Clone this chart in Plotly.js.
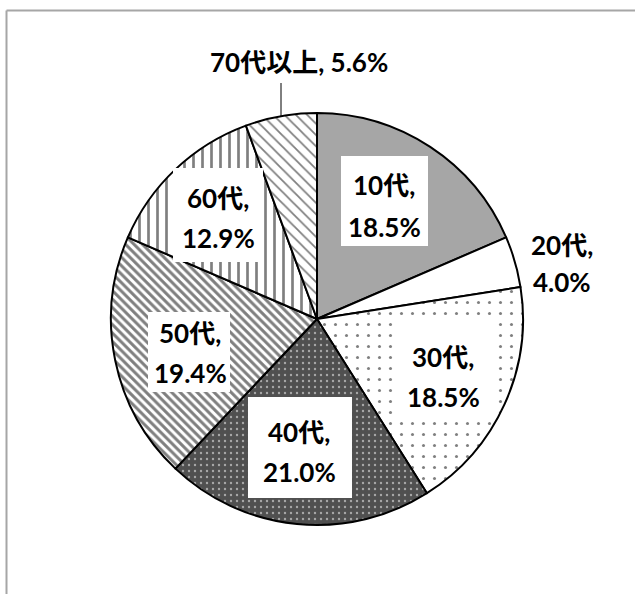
<!DOCTYPE html>
<html>
<head>
<meta charset="utf-8">
<script src="https://cdn.plot.ly/plotly-3.0.1.min.js"></script>
<style>
  html, body { margin: 0; padding: 0; background: #fff; }
  #chart { width: 635px; height: 594px; }
</style>
</head>
<body>
<div id="chart"></div>
<script>
// ---- data ----
const categories = ["10代", "20代", "30代", "40代", "50代", "60代", "70代以上"];
const shares = [18.5, 4.0, 18.5, 21.0, 19.4, 12.9, 5.6];

// ---- styles ----
const fillColors = ["#a6a6a6", "#ffffff", "#ffffff", "#505050", "#ffffff", "#ffffff", "#ffffff"];
const patternShapes = ["", "", ".", ".", "\\", "|", "\\"];
const patternFg = ["#000", "#000", "#000", "#ffffff", "#000", "#000", "#000"];
const patternSizes = [8, 8, 11, 6, 6, 9, 8];
const patternSolidity = [0.3, 0.3, 0.06, 0.12, 0.5, 0.3, 0.22];

// ---- label layout (pixel positions of label text / boxes) ----
const W = 635, H = 594;
const labelLayout = [
  {x: 384, y1: 185, y2: 227, box: [341, 156, 428, 246]},
  {x: 562, y1: 245, y2: 282, box: null},
  {x: 443, y1: 357, y2: 397, box: [393, 320, 495, 418]},
  {x: 299, y1: 432, y2: 472, box: [248, 397, 352, 498]},
  {x: 190, y1: 333, y2: 373, box: [148, 312, 230, 392]},
  {x: 218, y1: 198, y2: 238, box: [173, 168, 263, 262]},
  {x: 299, y1: 62, y2: null, box: null, leader: [281, 83, 281, 116]}
];
const pieCx = 317, pieCy = 319, pieR = 206;

const px = v => v / W;
const py = v => 1 - v / H;

const font = {family: "Lato, 'Noto Sans CJK JP', sans-serif", size: 26, color: "#000"};

const annotations = [];
const shapes = [
  {type: "line", xref: "paper", yref: "paper", x0: px(6.5), y0: py(10.5), x1: px(W + 5), y1: py(10.5), line: {color: "#a6a6a6", width: 2}},
  {type: "line", xref: "paper", yref: "paper", x0: px(6.5), y0: py(10.5), x1: px(6.5), y1: py(H + 5), line: {color: "#a6a6a6", width: 2}}
];

categories.forEach((cat, i) => {
  const L = labelLayout[i];
  const pct = shares[i].toFixed(1) + "%";
  if (L.box) {
    shapes.push({type: "rect", xref: "paper", yref: "paper", layer: "above",
      x0: px(L.box[0]), y0: py(L.box[1]), x1: px(L.box[2]), y1: py(L.box[3]),
      fillcolor: "#ffffff", line: {width: 0}});
  }
  if (L.leader) {
    shapes.push({type: "line", xref: "paper", yref: "paper", layer: "above",
      x0: px(L.leader[0]), y0: py(L.leader[1]), x1: px(L.leader[2]), y1: py(L.leader[3]),
      line: {color: "#000", width: 1}});
  }
  if (L.y2 === null) {
    annotations.push({xref: "paper", yref: "paper", x: px(L.x), y: py(L.y1),
      text: "<b>" + cat + ", " + pct + "</b>", showarrow: false, font: font,
      xanchor: "center", yanchor: "middle"});
  } else {
    annotations.push({xref: "paper", yref: "paper", x: px(L.x), y: py(L.y1),
      text: "<b>" + cat + ",</b>", showarrow: false, font: font,
      xanchor: "center", yanchor: "middle"});
    annotations.push({xref: "paper", yref: "paper", x: px(L.x), y: py(L.y2),
      text: "<b>" + pct + "</b>", showarrow: false, font: font,
      xanchor: "center", yanchor: "middle"});
  }
});

const trace = {
  type: "pie",
  labels: categories,
  values: shares,
  sort: false,
  direction: "clockwise",
  rotation: 0,
  textinfo: "none",
  hoverinfo: "label+percent",
  domain: {x: [px(pieCx - pieR), px(pieCx + pieR)], y: [py(pieCy + pieR), py(pieCy - pieR)]},
  marker: {
    colors: fillColors,
    line: {color: "#000", width: 2},
    pattern: {
      shape: patternShapes,
      size: patternSizes,
      solidity: patternSolidity,
      fgcolor: patternFg,
      bgcolor: fillColors,
      fillmode: "overlay"
    }
  }
};

const layout = {
  width: W, height: H,
  margin: {l: 0, r: 0, t: 0, b: 0},
  paper_bgcolor: "#fff",
  showlegend: false,
  shapes: shapes,
  annotations: annotations
};

Plotly.newPlot("chart", [trace], layout, {displayModeBar: false, staticPlot: true});
</script>
</body>
</html>
